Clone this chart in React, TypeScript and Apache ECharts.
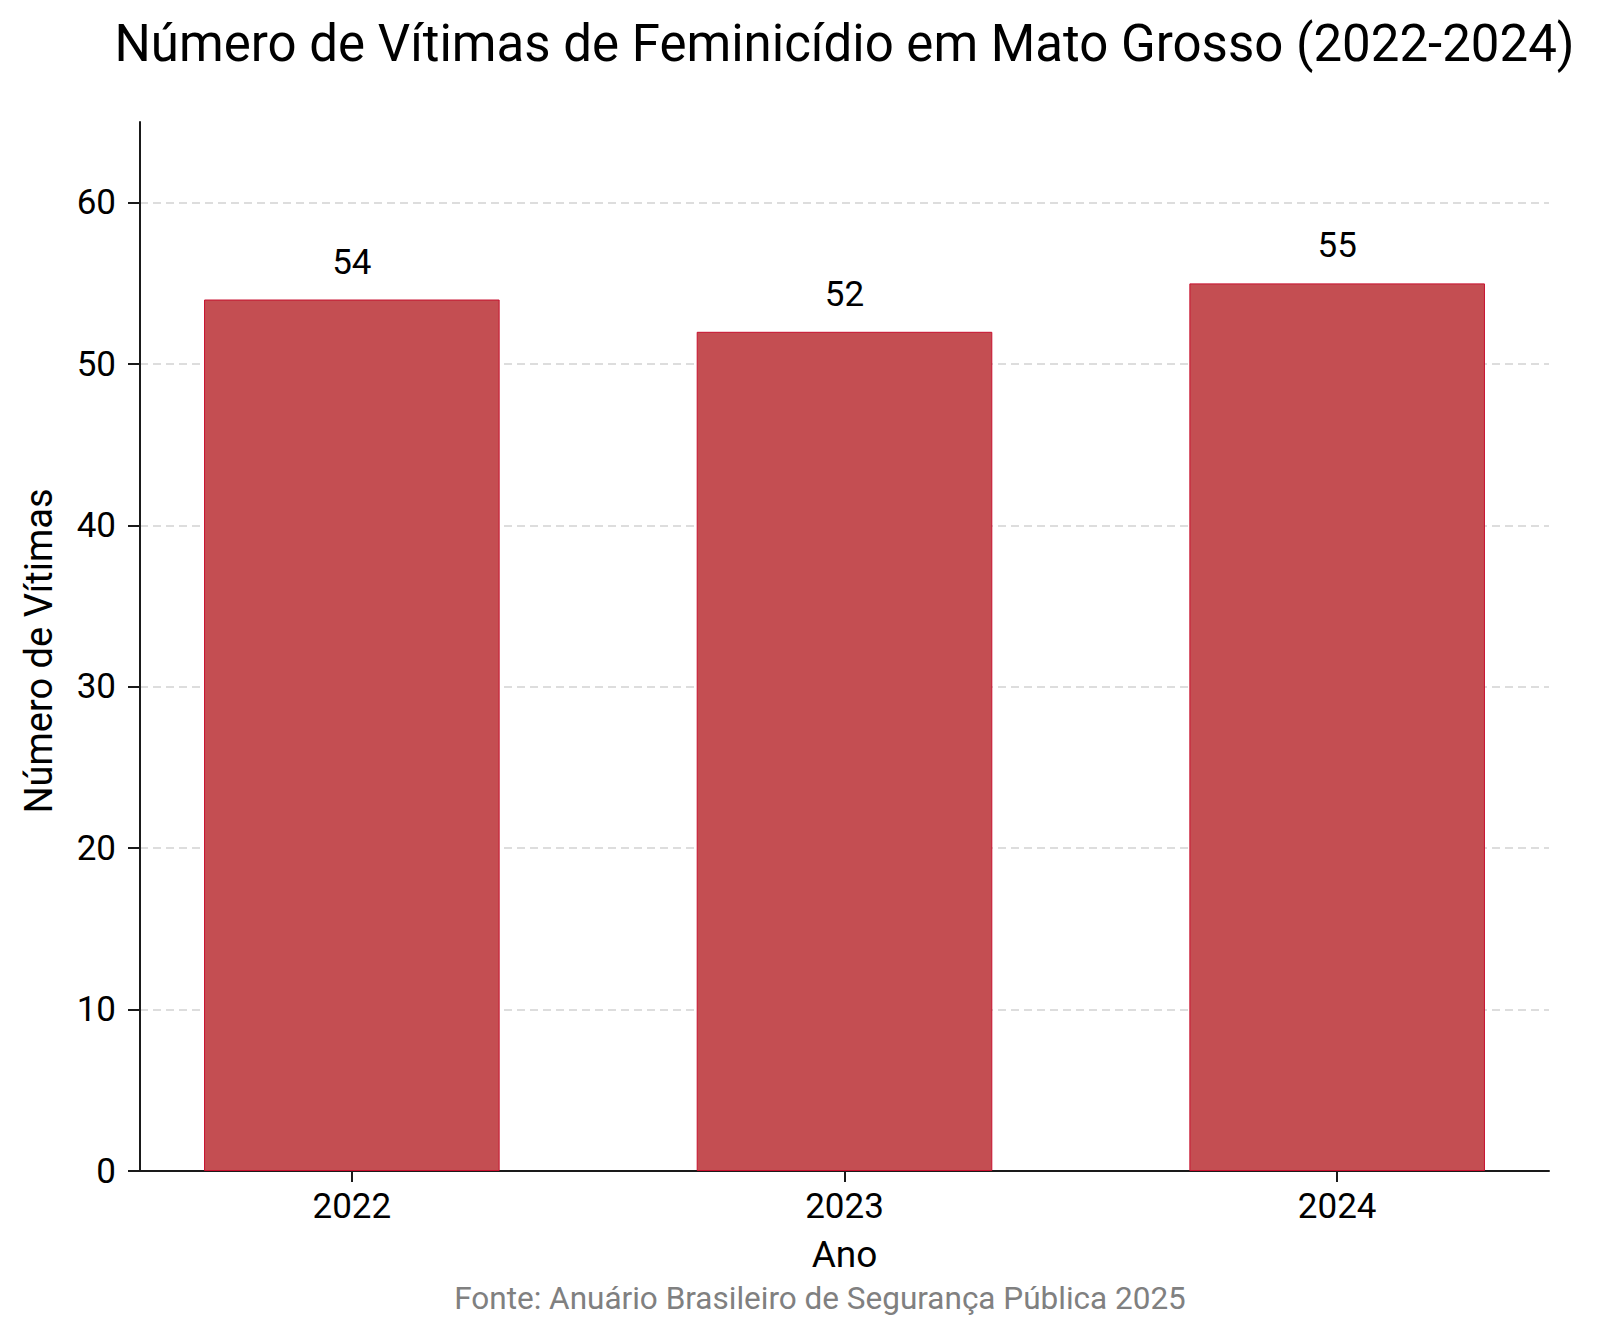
import React, { useEffect, useRef } from "react";
import * as echarts from "echarts";

const years = [2022, 2023, 2024];
const victims = [54, 52, 55];
const yTicks = [0, 10, 20, 30, 40, 50, 60];

const titleText = "Número de Vítimas de Feminicídio em Mato Grosso (2022-2024)";
const xName = "Ano";
const yName = "Número de Vítimas";
const sourceText = "Fonte: Anuário Brasileiro de Segurança Pública 2025";

const FONT = "Roboto, 'Noto Sans', sans-serif";

export default function App() {
  const ref = useRef<HTMLDivElement>(null);
  useEffect(() => {
    document.body.style.margin = "0";
    const chart = echarts.init(ref.current!, null, { renderer: "svg" });
    const gridLeft = 140;
    const gridRight = 51;
    const width = 1600;
    const axisCenter = (gridLeft + (width - gridRight)) / 2;
    chart.setOption({
      animation: false,
      backgroundColor: "#ffffff",
      textStyle: { fontFamily: FONT },
      grid: { left: gridLeft, right: gridRight, top: 122, bottom: 166, containLabel: false },
      xAxis: {
        type: "value",
        min: 2021.57,
        max: 2024.43,
        axisLine: { show: true, onZero: false, lineStyle: { color: "#1a1a1a", width: 2 } },
        axisTick: { show: true, length: 11, customValues: years, lineStyle: { color: "#1a1a1a", width: 2 } },
        axisLabel: {
          customValues: years,
          formatter: (v: number) => String(Math.round(v)),
          fontSize: 35,
          color: "#000",
          margin: 18,
          fontFamily: FONT,
        },
        splitLine: { show: false },
      },
      yAxis: {
        type: "value",
        min: 0,
        max: 65,
        axisLine: { show: true, lineStyle: { color: "#1a1a1a", width: 2 } },
        axisTick: { show: true, length: 12, customValues: yTicks, lineStyle: { color: "#1a1a1a", width: 2 } },
        axisLabel: { customValues: yTicks, fontSize: 35, color: "#000", margin: 24, fontFamily: FONT },
        splitLine: {
          show: true,
          lineStyle: { color: "#dddddd", width: 2, type: [8, 5] },
        },
      },
      series: [
        {
          type: "bar",
          data: years.map((y, i) => [y, victims[i]]),
          barWidth: "60%",
          itemStyle: { color: "#c44e52", borderColor: "#c8102e", borderWidth: 1 },
          label: {
            show: true,
            position: "top",
            distance: 20,
            fontSize: 35,
            color: "#000",
            fontFamily: FONT,
          },
          z: 3,
        },
      ],
      graphic: [
        {
          type: "text",
          x: axisCenter,
          y: 43,
          style: {
            text: titleText,
            fontSize: 51,
            fontFamily: FONT,
            fill: "#000",
            textAlign: "center",
            textVerticalAlign: "middle",
          },
        },
        {
          type: "text",
          x: 39,
          y: 651,
          rotation: Math.PI / 2,
          style: {
            text: yName,
            fontSize: 38,
            fontFamily: FONT,
            fill: "#000",
            textAlign: "center",
            textVerticalAlign: "middle",
          },
        },
        {
          type: "text",
          x: axisCenter,
          y: 1254,
          style: {
            text: xName,
            fontSize: 37,
            fontFamily: FONT,
            fill: "#000",
            textAlign: "center",
            textVerticalAlign: "middle",
          },
        },
        {
          type: "text",
          x: 820,
          y: 1298,
          style: {
            text: sourceText,
            fontSize: 31.5,
            fontFamily: FONT,
            fill: "#808080",
            textAlign: "center",
            textVerticalAlign: "middle",
          },
        },
      ],
    });
    return () => chart.dispose();
  }, []);
  return <div ref={ref} style={{ width: 1600, height: 1337 }} />;
}
